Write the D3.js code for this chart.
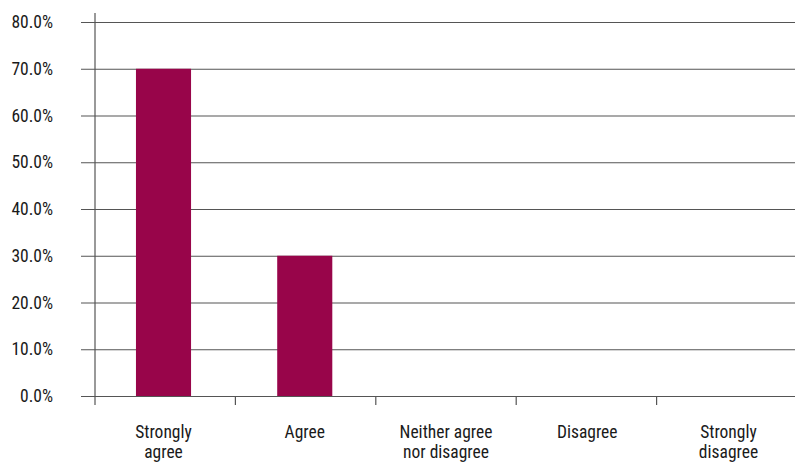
<!DOCTYPE html>
<html>
<head>
<meta charset="utf-8">
<script src="https://cdn.jsdelivr.net/npm/d3@7"></script>
<style>
  body { margin: 0; background: #fff; }
  text { font-family: "Liberation Sans Narrow", "Roboto", sans-serif; font-stretch: condensed; fill: #1a1a1a; }
</style>
</head>
<body>
<svg id="chart" width="795" height="463"></svg>
<script>
// categories and values (share of responses)
const categories = ["Strongly agree", "Agree", "Neither agree nor disagree", "Disagree", "Strongly disagree"];
const labelLines = [["Strongly", "agree"], ["Agree"], ["Neither agree", "nor disagree"], ["Disagree"], ["Strongly", "disagree"]];
const values = [0.70, 0.30, 0, 0, 0];
const yTicks = [0, 0.1, 0.2, 0.3, 0.4, 0.5, 0.6, 0.7, 0.8];

const svg = d3.select('#chart');
const plotLeft = 95, plotRight = 797, plotTop = 22, plotBottom = 396;

const x = d3.scaleBand()
	.domain(categories)
	.range([plotLeft, plotRight])
	.paddingInner(0.61)
	.paddingOuter(0.29);

const y = d3.scaleLinear()
	.domain([0, 0.8])
	.range([plotBottom, plotTop]);

// gridlines with ticks on the left
svg.append('g')
	.attr('transform', 'translate(' + plotLeft + ',0)')
	.call(d3.axisLeft(y).tickValues(yTicks).tickFormat(d3.format('.1%')).tickSize(-(plotRight - plotLeft)).tickSizeOuter(0))
	.call(function(g) {
		g.select('.domain').remove();
		g.selectAll('.tick line')
			.attr('x1', -14)
			.attr('stroke', '#555')
			.attr('stroke-width', 1.2);
		g.selectAll('.tick text')
			.attr('x', -42)
			.attr('font-size', 17.5)
			.attr('fill', '#1a1a1a');
	});

// bars
svg.selectAll('.bar')
	.data(values)
	.enter().append('rect')
	.attr('class', 'bar')
	.attr('x', function(d, i) { return x(categories[i]); })
	.attr('width', x.bandwidth())
	.attr('y', function(d) { return y(d); })
	.attr('height', function(d) { return plotBottom - y(d); })
	.attr('fill', '#98054a');

// vertical axis line
svg.append('line')
	.attr('x1', plotLeft).attr('x2', plotLeft)
	.attr('y1', 13).attr('y2', plotBottom + 9)
	.attr('stroke', '#555')
	.attr('stroke-width', 1.2);

// category separators below the baseline
const step = (plotRight - plotLeft) / categories.length;
svg.selectAll('.sep')
	.data(d3.range(1, categories.length))
	.enter().append('line')
	.attr('x1', function(i) { return plotLeft + i * step; })
	.attr('x2', function(i) { return plotLeft + i * step; })
	.attr('y1', plotBottom)
	.attr('y2', plotBottom + 9)
	.attr('stroke', '#555')
	.attr('stroke-width', 1.2);

// category labels
const lbl = svg.selectAll('.cat')
	.data(categories)
	.enter().append('text')
	.attr('class', 'cat')
	.attr('text-anchor', 'middle')
	.attr('font-size', 17.5);

lbl.selectAll('tspan')
	.data(function(d, i) { return labelLines[i]; })
	.enter().append('tspan')
	.attr('x', function() { const c = d3.select(this.parentNode).datum(); return x(c) + x.bandwidth() / 2; })
	.attr('y', function(d, j) { return 438 + j * 20; })
	.text(function(d) { return d; });
</script>
</body>
</html>
